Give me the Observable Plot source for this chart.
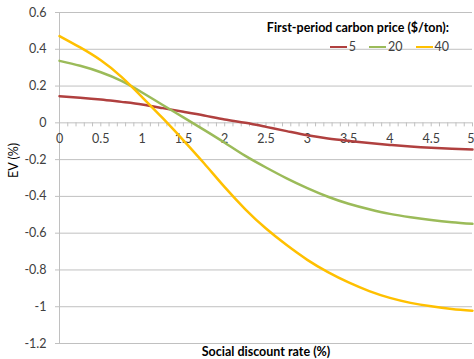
<!DOCTYPE html>
<html>
<head>
<meta charset="utf-8">
<script src="https://cdn.jsdelivr.net/npm/d3@7"></script>
<script src="https://cdn.jsdelivr.net/npm/@observablehq/plot@0.6"></script>
<style>
  html, body { margin: 0; padding: 0; background: #fff; }
  #wrap { position: relative; width: 474px; height: 359px; font-family: Lato, "Open Sans", sans-serif; }
  #legend { position: absolute; right: 25px; top: 21px; text-align: right; color: #000; }
  #legend .title { font-weight: bold; font-size: 12.5px; line-height: 14px; }
  #legend .row { margin-top: 5px; font-size: 12.5px; line-height: 14px; color: #404040; display: flex; justify-content: flex-end; align-items: center; }
  #legend .item { display: flex; align-items: center; margin-left: 13px; }
  #legend .sw { display: inline-block; width: 17px; height: 2.5px; margin-right: 2px; }
</style>
</head>
<body>
<div id="wrap"></div>
<script>
const rates = [0, 0.25, 0.5, 0.75, 1, 1.25, 1.5, 1.75, 2, 2.25, 2.5, 2.75, 3, 3.25, 3.5, 3.75, 4, 4.25, 4.5, 4.75, 5];
const price5  = [0.145, 0.137, 0.127, 0.114, 0.100, 0.080, 0.060, 0.040, 0.018, 0.000, -0.022, -0.045, -0.068, -0.085, -0.098, -0.110, -0.120, -0.129, -0.136, -0.141, -0.145];
const price20 = [0.337, 0.310, 0.275, 0.228, 0.165, 0.097, 0.030, -0.038, -0.108, -0.180, -0.243, -0.302, -0.355, -0.402, -0.440, -0.470, -0.495, -0.513, -0.528, -0.540, -0.549];
const price40 = [0.472, 0.410, 0.340, 0.250, 0.140, 0.025, -0.095, -0.220, -0.350, -0.470, -0.575, -0.665, -0.745, -0.812, -0.868, -0.915, -0.952, -0.979, -0.998, -1.012, -1.022];
const seriesNames = ["5", "20", "40"];
const seriesColors = ["#B0403F", "#9BBB59", "#FFC000"];
const yTicks = [0.6, 0.4, 0.2, 0, -0.2, -0.4, -0.6, -0.8, -1, -1.2];
const xTicks = [0, 0.5, 1, 1.5, 2, 2.5, 3, 3.5, 4, 4.5, 5];
const xMinorTicks = d3.range(0, 51).map(i => i / 10);
const legendTitle = "First-period carbon price ($/ton):";
const xLabel = "Social discount rate (%)";
const yLabel = "EV (%)";

const allSeries = [price5, price20, price40];
const data = [];
seriesNames.forEach((name, si) => {
  rates.forEach((r, i) => data.push({rate: r, ev: allSeries[si][i], series: name}));
});

const grid = "#c0c0c0";
const lastTick = xTicks[xTicks.length - 1];
const chart = Plot.plot({
  width: 474,
  height: 359,
  marginLeft: 59,
  marginRight: 2,
  marginTop: 12,
  marginBottom: 16,
  x: {domain: [0, 5], axis: null},
  y: {domain: [-1.2, 0.6], axis: null},
  color: {domain: seriesNames, range: seriesColors},
  style: {fontFamily: "Lato, 'Open Sans', sans-serif", fontSize: "12.5px", color: "#404040", background: "#fff"},
  marks: [
    Plot.ruleY(yTicks, {y: d => d, stroke: grid, strokeWidth: 1}),
    Plot.ruleX([0], {x: d => d, stroke: grid, strokeWidth: 1}),
    Plot.axisY({ticks: yTicks, tickSize: 4, tickPadding: 9, stroke: grid, tickFormat: d => String(d), label: null, fill: "#404040"}),
    Plot.ruleX(xMinorTicks, {x: d => d, y1: 0, y2: -0.022, stroke: grid, strokeWidth: 1}),
    Plot.text(xTicks.filter(d => d !== lastTick), {x: d => d, y: 0, dy: 16, text: d => String(d), fill: "#404040"}),
    Plot.text([lastTick], {x: d => d, y: 0, dy: 16, dx: 2, textAnchor: "end", text: d => String(d), fill: "#404040"}),
    Plot.line(data, {x: "rate", y: "ev", stroke: "series", strokeWidth: 2.5, curve: "natural"}),
    Plot.text([xLabel], {frameAnchor: "bottom", dy: 12, text: d => d, fontWeight: "bold", fill: "#000"}),
    Plot.text([yLabel], {frameAnchor: "left", dx: -46, rotate: -90, text: d => d, fill: "#000"})
  ]
});

const wrap = document.getElementById("wrap");
wrap.appendChild(chart);

const legend = document.createElement("div");
legend.id = "legend";
const title = document.createElement("div");
title.className = "title";
title.textContent = legendTitle;
legend.appendChild(title);
const row = document.createElement("div");
row.className = "row";
seriesNames.forEach((name, i) => {
  const item = document.createElement("span");
  item.className = "item";
  const sw = document.createElement("span");
  sw.className = "sw";
  sw.style.background = seriesColors[i];
  const lab = document.createElement("span");
  lab.textContent = name;
  item.appendChild(sw);
  item.appendChild(lab);
  row.appendChild(item);
});
legend.appendChild(row);
wrap.appendChild(legend);
</script>
</body>
</html>
